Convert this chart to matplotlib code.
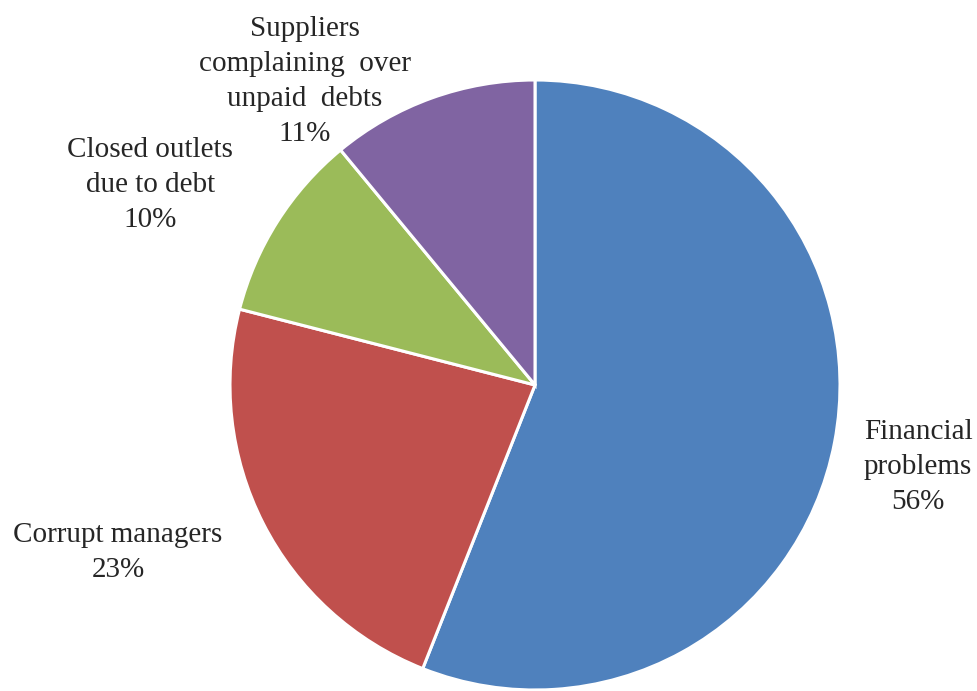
import matplotlib.pyplot as plt

causes = ['Financial\nproblems', 'Corrupt managers', 'Closed outlets\ndue to debt',
          'Suppliers\ncomplaining  over\nunpaid  debts']
shares = [56, 23, 10, 11]
colors = ['#4F81BD', '#C0504D', '#9BBB59', '#8064A2']

# label centres in pie units (radius = 1, centre = 0,0)
label_xy = [(1.256, -0.27), (-1.367, -0.548), (-1.262, 0.656), (-0.754, 0.995)]

plt.rcParams['font.family'] = ['Liberation Serif', 'DejaVu Serif']

fig = plt.figure(figsize=(9.78, 6.91), dpi=100)
ax = fig.add_axes([230 / 978, 1 / 691, 610 / 978, 610 / 691])
ax.pie(shares, colors=colors, startangle=90, counterclock=False,
       wedgeprops=dict(edgecolor='white', linewidth=2.2))
ax.set_xlim(-1, 1)
ax.set_ylim(-1, 1)
ax.set_aspect('equal')
ax.axis('off')

for name, val, (x, y) in zip(causes, shares, label_xy):
    ax.text(x, y, f'{name}\n{val}%', ha='center', va='center', fontsize=21,
            color='#262626', linespacing=1.45, clip_on=False)

fig.savefig('out.png', dpi=100)
